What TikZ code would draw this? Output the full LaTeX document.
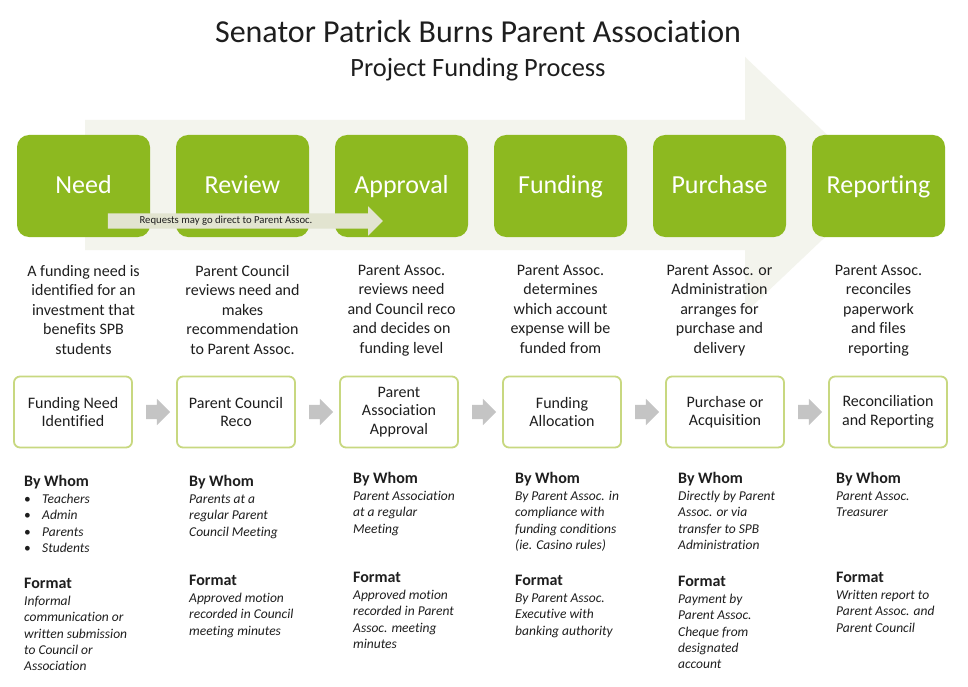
\documentclass[tikz,border=0pt]{standalone}
\usepackage{fontspec}
\setmainfont{Carlito}[Ligatures=NoCommon]
\usetikzlibrary{shapes,arrows}
\definecolor{spbgreen}{RGB}{141,185,32}
\definecolor{stepline}{RGB}{200,216,128}
\definecolor{bigarrow}{RGB}{243,244,237}
\definecolor{shortcutfill}{RGB}{226,228,208}
\definecolor{flowgrey}{RGB}{196,196,196}
\definecolor{ink}{RGB}{30,30,30}
\tikzstyle{stage} = [rectangle, rounded corners=12pt, fill=spbgreen, text=white, minimum width=133pt, minimum height=102pt, text height=19pt, text depth=4pt, node distance=159pt, font=\fontsize{26}{26}\selectfont]
\tikzstyle{desc} = [align=center, inner sep=0pt, text=ink, node distance=79pt, font=\fontsize{16}{19.5}\selectfont]
\tikzstyle{stepbox} = [rectangle, draw=stepline, line width=1.8pt, rounded corners=6pt, fill=white, text=ink, minimum width=118pt, minimum height=71pt, align=center, node distance=163pt, font=\fontsize{16}{18.5}\selectfont]
\tikzstyle{flow} = [single arrow, fill=flowgrey, inner sep=0pt, text height=7pt, text depth=7pt, single arrow head extend=6pt, minimum height=24pt, node distance=81.5pt]
\tikzstyle{shortcut} = [single arrow, fill=shortcutfill, inner sep=0pt, text height=7.5pt, text depth=7.5pt, single arrow head extend=7pt, minimum height=275pt]
\tikzstyle{who} = [anchor=north west, align=left, inner sep=0pt, text=ink, font=\fontsize{13.5}{16.2}\selectfont\itshape]
\newcommand{\blockhead}[1]{{\fontsize{16}{16}\selectfont\upshape\bfseries #1}}
\newcommand{\bul}{\makebox[18pt][l]{\upshape\textbullet}}

\begin{document}
\begin{tikzpicture}[x=1pt, y=-1pt]
\useasboundingbox [fill=white] (0,0) rectangle (968,687);

\node [anchor=base, text=ink, font=\fontsize{32}{32}\selectfont] (title) at (478,43) {Senator Patrick Burns Parent Association};
\node [anchor=base, text=ink, font=\fontsize{26.4}{26.4}\selectfont] (subtitle) at (478,77) {Project Funding Process};

\fill [bigarrow] (85,120) -- (745,120) -- (745,57) -- (880,185) -- (745,313) -- (745,250) -- (85,250) -- cycle;

\node [stage] (need) at (83.5,186) {Need};
\node [stage, right of = need] (review) {Review};
\node [stage, right of = review] (approval) {Approval};
\node [stage, right of = approval] (funding) {Funding};
\node [stage, right of = funding] (purchase) {Purchase};
\node [stage, right of = purchase] (reporting) {Reporting};

\node [shortcut] (direct) at (241.5,221) {};
\node [text=ink, font=\fontsize{10.7}{10.7}\selectfont] (directtxt) at (226,220.5) {Requests may go direct to Parent Assoc.};

\node [desc, below of = need, anchor=north] (needtxt) {A funding need is\\identified for an\\investment that\\benefits SPB\\students};
\node [desc, below of = review, anchor=north] (reviewtxt) {Parent Council\\reviews need and\\makes\\recommendation\\to Parent Assoc.};
\node [desc, below of = approval, anchor=north] (approvaltxt) {Parent Assoc.\\reviews need\\and Council reco\\and decides on\\funding level};
\node [desc, below of = funding, anchor=north] (fundingtxt) {Parent Assoc.\\determines\\which account\\expense will be\\funded from};
\node [desc, below of = purchase, anchor=north] (purchasetxt) {Parent Assoc. or\\Administration\\arranges for\\purchase and\\delivery};
\node [desc, below of = reporting, anchor=north] (reportingtxt) {Parent Assoc.\\reconciles\\paperwork\\and files\\reporting};

\node [stepbox] (fni) at (73,412) {Funding Need\\Identified};
\node [stepbox, right of = fni] (pcr) {Parent Council\\Reco};
\node [stepbox, right of = pcr] (paa) {Parent\\Association\\Approval};
\node [stepbox, right of = paa] (fal) {Funding\\Allocation};
\node [stepbox, right of = fal] (poa) {Purchase or\\Acquisition};
\node [stepbox, right of = poa] (rar) {Reconciliation\\and Reporting};

\node [flow, right of = fni] (g1) {};
\node [flow, right of = pcr] (g2) {};
\node [flow, right of = paa] (g3) {};
\node [flow, right of = fal] (g4) {};
\node [flow, right of = poa] (g5) {};

\node [who] (who1) at (24,475) {\blockhead{By Whom}\\[1pt]\bul Teachers\\\bul Admin\\\bul Parents\\\bul Students};
\node [who] (fmt1) at (24,578) {\blockhead{Format}\\[1pt]Informal\\communication or\\written submission\\to Council or\\Association};

\node [who] (who2) at (189,475) {\blockhead{By Whom}\\[1pt]Parents at a\\regular Parent\\Council Meeting};
\node [who] (fmt2) at (189,575) {\blockhead{Format}\\[1pt]Approved motion\\recorded in Council\\meeting minutes};

\node [who] (who3) at (353,472) {\blockhead{By Whom}\\[1pt]Parent Association\\at a regular\\Meeting};
\node [who] (fmt3) at (353,572) {\blockhead{Format}\\[1pt]Approved motion\\recorded in Parent\\Assoc. meeting\\minutes};

\node [who] (who4) at (515,472) {\blockhead{By Whom}\\[1pt]By Parent Assoc. in\\compliance with\\funding conditions\\(ie. Casino rules)};
\node [who] (fmt4) at (515,575) {\blockhead{Format}\\[1pt]By Parent Assoc.\\Executive with\\banking authority};

\node [who] (who5) at (678,472) {\blockhead{By Whom}\\[1pt]Directly by Parent\\Assoc. or via\\transfer to SPB\\Administration};
\node [who] (fmt5) at (678,576) {\blockhead{Format}\\[1pt]Payment by\\Parent Assoc.\\Cheque from\\designated\\account};

\node [who] (who6) at (836,472) {\blockhead{By Whom}\\[1pt]Parent Assoc.\\Treasurer};
\node [who] (fmt6) at (836,572) {\blockhead{Format}\\[1pt]Written report to\\Parent Assoc. and\\Parent Council};

\end{tikzpicture}
\end{document}
